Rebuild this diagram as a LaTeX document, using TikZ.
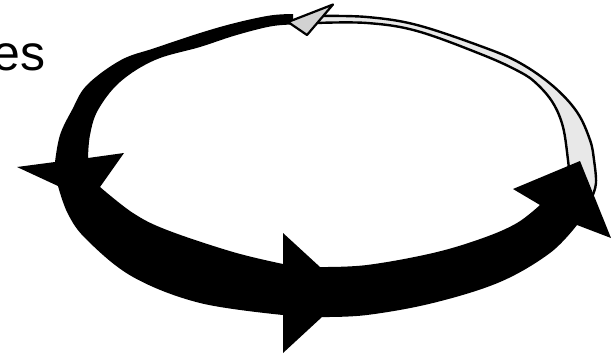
\documentclass[tikz,border=0pt]{standalone}
\usepackage{fontspec}
\setmainfont{Liberation Sans}
\begin{document}
\begin{tikzpicture}[x=1pt,y=-1pt,
  grayband/.style={fill=gray!18,draw=black,line width=2.4pt,line join=round},
  grayhead/.style={fill=gray!35,draw=black,line width=2.2pt,line join=round},
  blackband/.style={fill=black},
  smoothpath/.style={smooth,tension=0.6}]
\useasboundingbox (0,0) rectangle (611,356);
% text
\node[anchor=base east,inner sep=0pt,font=\fontsize{50}{60}\selectfont] (lbl) at (46,70.5) {es};
% thin gray band (back side of the ring)
\path[grayband] plot[smoothpath] coordinates {(320,16) (367,17) (417,25) (483,47) (520,63) (553,86) (577,112) (590,140) (594,160) (596,183) (592,197)}
  -- plot[smoothpath] coordinates {(569,172) (568,160) (563,127) (553,103) (537,84) (520,72) (483,55) (417,31) (367,23) (316,23)}
  -- cycle;
% thick black band with arrowheads
\path[blackband] plot[smoothpath] coordinates {(293,14) (270,15.5) (235,23) (200,33) (155,48) (121,60) (87,85) (72,110) (60,135) (55,162)}
  -- (17,167) -- plot[smoothpath] coordinates {(58,186) (68,214) (87,240) (133,277) (200,303) (283,315)}
  -- (283,353) -- plot[smoothpath] coordinates {(322,317) (367,315) (433,303) (500,282) (550,253) (577,225)}
  -- (611,238) -- (580,161) -- (513,189)
  -- plot[smoothpath] coordinates {(540,205) (517,223) (483,238) (433,253) (367,265) (320,267)}
  -- (283,233) -- plot[smoothpath] coordinates {(283,264) (233,252) (167,230) (133,213) (100,187)}
  -- (124,153) -- plot[smoothpath] coordinates {(88,158) (90,135) (98,110) (120,82) (155,60) (200,47) (235,35.5) (270,26.5) (293,24.5)}
  -- cycle;
% gray arrowhead at the top
\path[grayhead] (288,22) -- (333,4.5) -- (307,35) -- cycle;
\end{tikzpicture}
\end{document}
